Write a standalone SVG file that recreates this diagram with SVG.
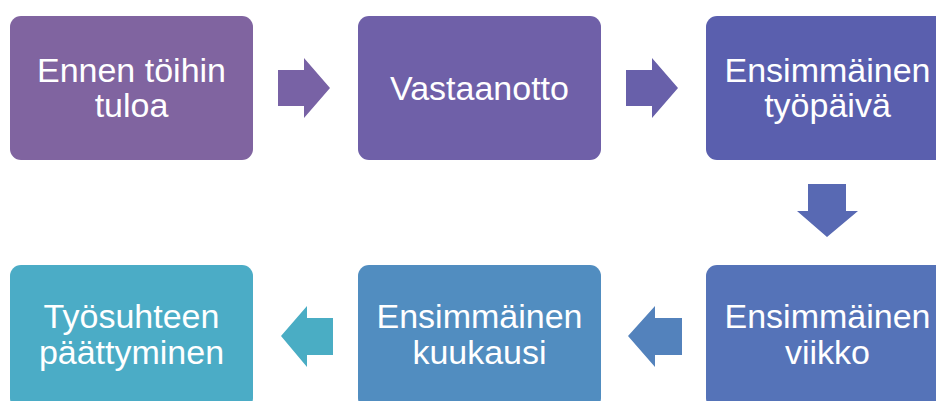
<svg xmlns="http://www.w3.org/2000/svg" width="936" height="401" viewBox="0 0 936 401">
<style>
.t{font-family:"Liberation Sans",Arial,sans-serif;font-size:34px;fill:#ffffff;text-anchor:middle}
</style>
<rect width="936" height="401" fill="#ffffff"/>
<g id="connectors">
<polygon points="278,70 304,70 304,58 330,88 304,118 304,106 278,106" fill="#7862A5"/>
<polygon points="626,70 652,70 652,58 678,88 652,118 652,106 626,106" fill="#6860AA"/>
<polygon points="808,184 846,184 846,211 858,211 827,237 797,211 808,211" fill="#5869B3"/>
<polygon points="682,318 655,318 655,306 628,336 655,367 655,355 682,355" fill="#5382BC"/>
<polygon points="333,318 307,318 307,306 281,336 307,367 307,355 333,355" fill="#4AADC4"/>
</g>
<g id="n1"><rect x="10" y="16" width="243" height="144" rx="11" fill="#8064A0"/><text class="t" x="131.5" y="82">Ennen töihin</text><text class="t" x="131.5" y="117">tuloa</text></g>
<g id="n2"><rect x="358" y="16" width="243" height="144" rx="11" fill="#6F60A8"/><text class="t" x="479.5" y="100">Vastaanotto</text></g>
<g id="n3"><rect x="706" y="16" width="243" height="144" rx="11" fill="#5A5FAE"/><text class="t" x="827.5" y="82">Ensimmäinen</text><text class="t" x="827.5" y="117">työpäivä</text></g>
<g id="n4"><rect x="706" y="265" width="243" height="144" rx="11" fill="#5573B8"/><text class="t" x="827.5" y="328">Ensimmäinen</text><text class="t" x="827.5" y="364">viikko</text></g>
<g id="n5"><rect x="358" y="265" width="243" height="144" rx="11" fill="#518DC0"/><text class="t" x="479.5" y="328">Ensimmäinen</text><text class="t" x="479.5" y="364">kuukausi</text></g>
<g id="n6"><rect x="10" y="265" width="243" height="144" rx="11" fill="#4BACC6"/><text class="t" x="131.5" y="328">Työsuhteen</text><text class="t" x="131.5" y="364">päättyminen</text></g>
</svg>
